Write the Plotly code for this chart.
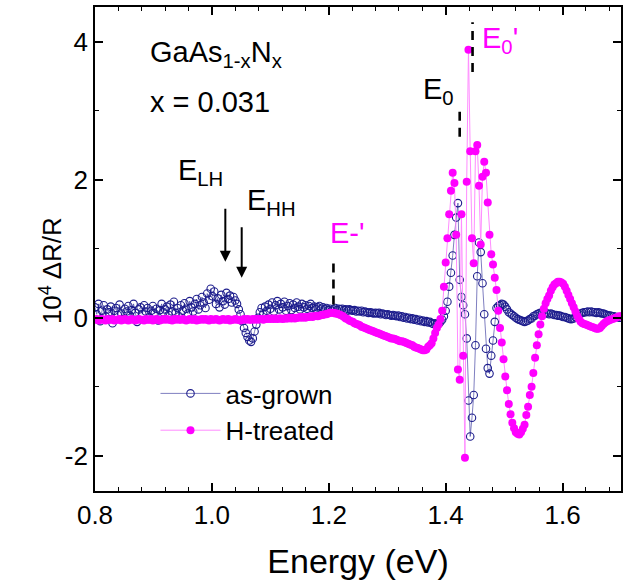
import plotly.graph_objects as go

# ---- data ----
E_START = 0.8      # eV, first point of the measurement grid
E_STEP = 0.003     # eV, grid spacing

as_grown = [
    0.15, 0.05, 0.20, -0.05, 0.10, 0.18, 0.02, 0.12, 0.08, 0.16,
    -0.08, 0.10, 0.14, 0.04, 0.19, 0.06, -0.02, 0.13, 0.09, 0.17,
    0.03, 0.11, 0.20, 0.07, -0.06, 0.12, 0.15, 0.05, 0.18, 0.09,
    0.14, 0.01, 0.10, 0.17, 0.06, 0.13, -0.04, 0.11, 0.20, 0.08,
    0.12, 0.16, 0.04, 0.19, 0.09, 0.23, 0.07, 0.14, 0.02, 0.18,
    0.10, 0.21, 0.13, 0.06, 0.24, 0.15, 0.09, 0.20, 0.27, 0.12,
    0.18, 0.30, 0.22, 0.14, 0.35, 0.26, 0.42, 0.31, 0.38, 0.20,
    0.28, 0.15, 0.33, 0.24, 0.19, 0.36, 0.27, 0.32, 0.22, 0.30,
    0.25, 0.20, 0.12, 0.05, -0.05, -0.15, -0.22, -0.28, -0.33, -0.35,
    -0.30, -0.20, -0.10, 0.00, 0.08, 0.14, 0.05, 0.16, 0.10, 0.19,
    0.13, 0.22, 0.09, 0.18, 0.24, 0.12, 0.20, 0.15, 0.23, 0.10,
    0.17, 0.21, 0.11, 0.19, 0.14, 0.22, 0.16, 0.12, 0.20, 0.15,
    0.18, 0.13, 0.17, 0.20, 0.14, 0.16, 0.12, 0.15, 0.17, 0.13,
    0.15, 0.12, 0.14, 0.11, 0.13, 0.10, 0.12, 0.14, 0.11, 0.13,
    0.12, 0.13, 0.11, 0.12, 0.10, 0.12, 0.11, 0.10, 0.11, 0.09,
    0.10, 0.09, 0.10, 0.08, 0.09, 0.08, 0.07, 0.08, 0.07, 0.06,
    0.07, 0.06, 0.07, 0.05, 0.06, 0.05, 0.04, 0.05, 0.04, 0.03,
    0.04, 0.03, 0.02, 0.03, 0.01, 0.02, 0.00, 0.01, -0.01, 0.00,
    -0.02, -0.01, -0.03, -0.02, -0.04, -0.03, -0.05, -0.04, -0.06, -0.05,
    -0.07, -0.06, -0.08, -0.09, -0.08, -0.10, -0.09, -0.06, -0.03, 0.02,
    0.10, 0.23, 0.45, 0.65, 0.90, 1.20, 1.45, 1.66, 0.55, 0.30,
    0.18, 0.05, -0.30, -1.20, -1.72, -1.45, -1.12, -0.40, 0.60, 1.09,
    0.95, 0.50, 0.05, -0.45, -0.73, -0.81, -0.55, -0.33, -0.06, 0.14,
    0.17, 0.18, 0.20, 0.19, 0.16, 0.12, 0.08, 0.06, 0.04, 0.02,
    0.00, -0.02, -0.03, -0.04, -0.05, -0.06, -0.05, -0.04, -0.02, -0.01,
    0.02, 0.03, 0.05, 0.06, 0.07, 0.07, 0.06, 0.07, 0.06, 0.05,
    0.06, 0.05, 0.04, 0.04, 0.03, 0.03, 0.02, 0.01, 0.01, 0.00,
    -0.01, -0.02, -0.02, -0.01, 0.01, 0.03, 0.05, 0.06, 0.07, 0.08,
    0.08, 0.09, 0.08, 0.09, 0.08, 0.08, 0.07, 0.08, 0.07, 0.06,
    0.06, 0.05, 0.04, 0.03, 0.03, 0.02, 0.02, 0.01, 0.01, 0.00,
    0.00,
]

h_treated = [
    -0.03, -0.02, -0.04, -0.03, -0.02, -0.03, -0.04, -0.02, -0.03, -0.03,
    -0.02, -0.04, -0.03, -0.03, -0.02, -0.04, -0.03, -0.02, -0.03, -0.04,
    -0.03, -0.02, -0.03, -0.04, -0.03, -0.02, -0.03, -0.03, -0.04, -0.02,
    -0.03, -0.03, -0.02, -0.04, -0.03, -0.02, -0.03, -0.04, -0.03, -0.02,
    -0.03, -0.02, -0.03, -0.03, -0.04, -0.02, -0.03, -0.02, -0.03, -0.03,
    -0.02, -0.03, -0.04, -0.03, -0.02, -0.03, -0.03, -0.02, -0.04, -0.03,
    -0.03, -0.02, -0.03, -0.02, -0.03, -0.04, -0.02, -0.03, -0.03, -0.02,
    -0.03, -0.04, -0.03, -0.02, -0.03, -0.03, -0.02, -0.04, -0.03, -0.03,
    -0.02, -0.03, -0.03, -0.04, -0.03, -0.02, -0.03, -0.02, -0.03, -0.03,
    -0.02, -0.03, -0.02, -0.03, -0.02, -0.02, -0.03, -0.02, -0.02, -0.01,
    -0.02, -0.01, -0.02, -0.01, -0.02, -0.01, -0.01, -0.02, -0.01, -0.01,
    -0.01, 0.00, -0.01, 0.00, -0.01, 0.00, 0.00, 0.01, 0.00, 0.01,
    0.00, 0.01, 0.01, 0.02, 0.01, 0.02, 0.03, 0.02, 0.03, 0.04,
    0.04, 0.05, 0.05, 0.06, 0.07, 0.07, 0.07, 0.06, 0.06, 0.05,
    0.04, 0.03, 0.01, -0.01, -0.02, -0.04, -0.05, -0.06, -0.08, -0.09,
    -0.10, -0.11, -0.13, -0.14, -0.15, -0.16, -0.17, -0.18, -0.19, -0.20,
    -0.21, -0.22, -0.23, -0.24, -0.25, -0.26, -0.27, -0.28, -0.29, -0.30,
    -0.30, -0.31, -0.32, -0.33, -0.34, -0.34, -0.35, -0.36, -0.37, -0.38,
    -0.39, -0.40, -0.42, -0.43, -0.44, -0.45, -0.46, -0.47, -0.47, -0.46,
    -0.42, -0.40, -0.37, -0.30, -0.22, -0.15, -0.10, -0.02, 0.10, 0.45,
    0.80, 1.15, 1.50, 1.84, 2.10, 1.95, 1.20, -0.75, -0.90, 1.50,
    -0.55, -2.03, 1.97, 3.88, 2.41, 1.15, 0.79, 2.41, 2.50, 1.91,
    1.06, 2.04, 2.26, 2.10, 1.67, 1.20, 0.92, 0.77, 0.58, 0.40,
    0.10, -0.15, -0.36, -0.60, -0.85, -1.05, -1.25, -1.40, -1.52, -1.60,
    -1.66, -1.68, -1.69, -1.66, -1.61, -1.55, -1.41, -1.29, -1.12, -1.00,
    -0.80, -0.58, -0.40, -0.24, -0.10, 0.02, 0.13, 0.21, 0.27, 0.32,
    0.39, 0.44, 0.48, 0.50, 0.52, 0.52, 0.51, 0.49, 0.45, 0.39,
    0.33, 0.27, 0.21, 0.15, 0.09, 0.03, -0.02, -0.06, -0.08, -0.09,
    -0.10, -0.11, -0.12, -0.13, -0.14, -0.15, -0.16, -0.16, -0.15, -0.12,
    -0.09, -0.07, -0.05, -0.04, -0.03, -0.02, -0.01, 0.00, 0.01, 0.02,
    0.02,
]

energy = [round(E_START + E_STEP * i, 4) for i in range(len(as_grown))]

# transition energies marked on the chart (eV)
E_LH = 1.023
E_HH = 1.051
E_MINUS = 1.208
E_0 = 1.424
E_0P = 1.446

x_ticks = [0.8, 1.0, 1.2, 1.4, 1.6]
x_ticktext = ["0.8", "1.0", "1.2", "1.4", "1.6"]
y_ticks = [-2, 0, 2, 4]
y_ticktext = ["-2", "0", "2", "4"]

FONT = "Liberation Sans, Arial, sans-serif"
NAVY = "#1c1c8c"
MAGENTA = "#ff00ff"

fig = go.Figure()
fig.add_trace(go.Scatter(
    x=energy, y=as_grown, mode="lines+markers", name="as-grown",
    line=dict(color="rgba(40,40,150,0.75)", width=0.8),
    marker=dict(symbol="circle-open", size=7.5, color=NAVY, line=dict(width=1.1)),
))
fig.add_trace(go.Scatter(
    x=energy, y=h_treated, mode="lines+markers", name="H-treated",
    line=dict(color="#ff8cff", width=1),
    marker=dict(symbol="circle", size=8, color=MAGENTA),
))

# dashed markers of transitions
dash_style = dict(width=2.6, dash="9px,7px")
fig.add_shape(type="line", xref="x", yref="y", x0=E_MINUS, x1=E_MINUS, y0=0.19, y1=0.84,
              line=dict(color="black", **dash_style))
fig.add_shape(type="line", xref="x", yref="y", x0=E_0, x1=E_0, y0=2.62, y1=3.06,
              line=dict(color="black", **dash_style))
fig.add_shape(type="line", xref="x", yref="y", x0=E_0P, x1=E_0P, y0=3.56, y1=4.28,
              line=dict(color="black", **dash_style))

# arrows for LH / HH
for ex, y_tail, y_head in [(E_LH, 1.60, 0.81), (E_HH, 1.33, 0.58)]:
    fig.add_annotation(x=ex, y=y_head, ax=ex, ay=y_tail, xref="x", yref="y",
                       axref="x", ayref="y", text="", showarrow=True,
                       arrowhead=2, arrowsize=1.1, arrowwidth=2, arrowcolor="black")

ann_font = dict(family=FONT, size=29, color="black")
mag_font = dict(family=FONT, size=29, color=MAGENTA)
labels = [
    (0.890, 3.82, "GaAs<sub>1-x</sub>N<sub>x</sub>", ann_font),
    (0.890, 3.12, "x = 0.031", ann_font),
    (0.939, 2.11, "E<sub>LH</sub>", ann_font),
    (1.057, 1.68, "E<sub>HH</sub>", ann_font),
    (1.199, 1.22, "E-'", mag_font),
    (1.357, 3.28, "E<sub>0</sub>", ann_font),
    (1.459, 4.02, "E<sub>0</sub>'", mag_font),
]
for lx, ly, txt, f in labels:
    fig.add_annotation(x=lx, y=ly, xref="x", yref="y", text=txt, showarrow=False,
                       xanchor="left", yanchor="middle", font=f)

# y axis title
fig.add_annotation(x=-0.083, y=0.455, xref="paper", yref="paper",
                   text="10<sup>4</sup> \u0394R/R", showarrow=False, textangle=-90,
                   font=dict(family=FONT, size=26, color="black"),
                   xanchor="center", yanchor="middle")

axis_common = dict(
    showline=True, linecolor="black", linewidth=1.8, mirror="allticks",
    ticks="inside", ticklen=8, tickwidth=1.5, tickcolor="black",
    showgrid=False, zeroline=False,
    tickfont=dict(family=FONT, size=26, color="black"),
)

fig.update_xaxes(
    range=[0.8, 1.7], tickvals=x_ticks, ticktext=x_ticktext,
    minor=dict(dtick=0.04, tick0=0.8, ticks="inside", ticklen=4, tickwidth=1.3,
               tickcolor="black", showgrid=False),
    title=dict(text="Energy (eV)", font=dict(family=FONT, size=34, color="black"),
               standoff=20),
    **axis_common,
)
fig.update_yaxes(
    range=[-2.51, 4.5], tickvals=y_ticks, ticktext=y_ticktext,
    minor=dict(dtick=1, tick0=0, ticks="inside", ticklen=4, tickwidth=1.3,
               tickcolor="black", showgrid=False),
    **axis_common,
)

fig.update_layout(
    width=624, height=584,
    margin=dict(l=95, r=1, t=7, b=93),
    paper_bgcolor="white", plot_bgcolor="white",
    font=dict(family=FONT, color="black"),
    showlegend=True,
    legend=dict(x=0.115, y=0.25, xanchor="left", yanchor="top",
                bgcolor="rgba(0,0,0,0)", font=dict(family=FONT, size=26, color="black"),
                itemwidth=60, tracegroupgap=0),
)

fig.write_html("out.html")
